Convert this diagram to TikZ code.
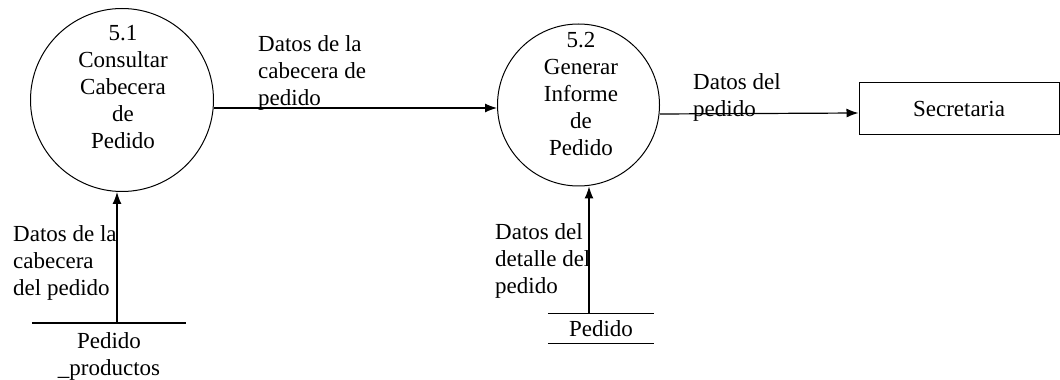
\documentclass[tikz,border=0pt]{standalone}
\usepackage{fontspec}
\setmainfont{Liberation Serif}
\usetikzlibrary{arrows.meta}
\begin{document}
\begin{tikzpicture}[x=1pt,y=1pt,
  font=\fontsize{23}{27}\selectfont,
  proc/.style={circle,draw,line width=1pt,inner sep=0pt},
  ptext/.style={anchor=north,align=center,inner sep=0pt},
  lbl/.style={anchor=north west,align=left,inner sep=0pt},
  entity/.style={draw,line width=1pt,minimum width=200pt,minimum height=52pt,inner sep=0pt},
  storeone/.style={anchor=north,align=center,minimum width=154pt,inner xsep=0pt,inner ysep=9pt},
  storetwo/.style={align=center,minimum width=106pt,minimum height=29pt,inner sep=0pt},
  flow/.style={line width=1.2pt,-{Latex[length=12pt,width=9pt]}},
  sline/.style={line width=1.2pt}]
\useasboundingbox (0,0) rectangle (1060,380);
% processes
\node[proc,minimum size=183pt] (c1) at (122,280) {};
\node[ptext] (t1) at (123,355) {5.1\\Consultar\\Cabecera\\de\\Pedido};
\node[proc,minimum size=162pt] (c2) at (578.5,275) {};
\node[ptext] (t2) at (581,348) {5.2\\Generar\\Informe\\de\\Pedido};
% entity
\node[entity] (sec) at (959,271) {Secretaria};
% stores
\node[storeone] (s1) at (109,57) {Pedido\\\_productos};
\draw[sline] (s1.north west) -- (s1.north east);
\node[storetwo] (s2) at (601,51.5) {Pedido};
\draw[sline] (s2.north west) -- (s2.north east);
\draw[sline] (s2.south west) -- (s2.south east);
% flows
\draw[flow] ([yshift=-8pt]c1.east) -- ([yshift=-3pt]c2.west);
\draw[flow] ([yshift=-9pt]c2.east) -- ([yshift=-4pt]sec.west);
\draw[flow] ([xshift=8pt]s1.north) -- ([xshift=8pt]s1.north |- c1.south);
\draw[flow] ([xshift=-12pt]s2.north) -- ([xshift=-12pt]s2.north |- c2.south);
% labels
\node[lbl] (la) at (258,345) {Datos de la\\cabecera de\\pedido};
\node[lbl] (lb) at (693,307) {Datos del\\pedido};
\node[lbl] (lc) at (13,155) {Datos de la\\cabecera\\del pedido};
\node[lbl] (ld) at (495,157) {Datos del\\detalle del\\pedido};
\end{tikzpicture}
\end{document}
